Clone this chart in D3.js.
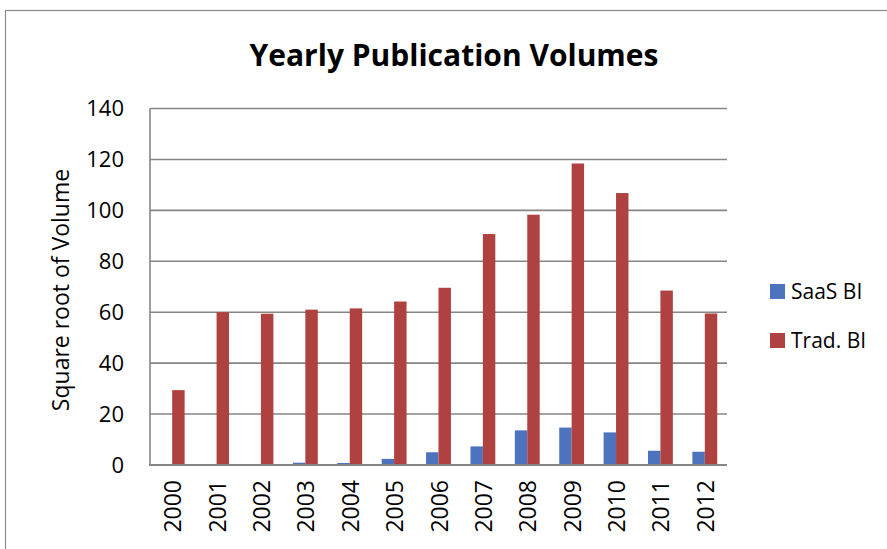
<!DOCTYPE html>
<html>
<head>
<meta charset="utf-8">
<script src="https://cdn.jsdelivr.net/npm/d3@7"></script>
<style>
  body { margin: 0; background: #fff; }
  text { font-family: "Open Sans", "Noto Sans", sans-serif; fill: #000; }
</style>
</head>
<body>
<div id="chart"></div>
<script>
// data
const years = ["2000", "2001", "2002", "2003", "2004", "2005", "2006",
  "2007", "2008", "2009", "2010", "2011", "2012"];
const saasBI = [0, 0, 0, 0.9, 0.8, 2.4, 5.0, 7.3, 13.6, 14.7, 12.8, 5.6, 5.2];
const tradBI = [29.4, 60, 59.4, 61, 61.5, 64.2, 69.6, 90.7, 98.3, 118.4, 106.8, 68.5, 59.5];
const yTicks = [0, 20, 40, 60, 80, 100, 120, 140];
const seriesNames = ["SaaS BI", "Trad. BI"];
const colors = ["#4E73BE", "#AF4140"];

const width = 887, height = 549;
const plot = { left: 150, right: 727, top: 108.5, bottom: 465 };

const svg = d3.select("#chart").append("svg")
  .attr("width", width)
  .attr("height", height);

// chart frame
svg.append("rect")
  .attr("x", 5.5).attr("y", 10.5)
  .attr("width", 900).attr("height", 600)
  .attr("fill", "none")
  .attr("stroke", "#8c8c8c")
  .attr("stroke-width", 1.2);

// title
svg.append("text")
  .attr("x", 454)
  .attr("y", 66)
  .attr("text-anchor", "middle")
  .attr("font-size", 30)
  .attr("font-weight", "bold")
  .text("Yearly Publication Volumes");

const x = d3.scaleBand().domain(years).range([plot.left, plot.right]);
const y = d3.scaleLinear().domain([0, 140]).range([plot.bottom, plot.top]);
const barW = x.bandwidth() * 0.28;

// gridlines
svg.append("g")
  .selectAll("line")
  .data(yTicks)
  .join("line")
  .attr("x1", plot.left).attr("x2", plot.right)
  .attr("y1", (d) => y(d)).attr("y2", (d) => y(d))
  .attr("stroke", "#868686")
  .attr("stroke-width", 1.6);

// y tick labels
svg.append("g")
  .selectAll("text")
  .data(yTicks)
  .join("text")
  .attr("x", 124)
  .attr("y", (d) => y(d))
  .attr("dy", "0.35em")
  .attr("text-anchor", "end")
  .attr("font-size", 22)
  .text((d) => d);

// y axis title
svg.append("text")
  .attr("transform", "translate(69, 290) rotate(-90)")
  .attr("text-anchor", "middle")
  .attr("font-size", 23)
  .text("Square root of Volume");

// bars
const series = [saasBI, tradBI];
series.forEach((vals, s) => {
  svg.append("g")
    .selectAll("rect")
    .data(vals)
    .join("rect")
    .attr("x", (d, i) => x(years[i]) + x.bandwidth() / 2 + (s - 1) * barW)
    .attr("y", (d) => y(d))
    .attr("width", barW)
    .attr("height", (d) => y(0) - y(d))
    .attr("fill", colors[s]);
});

// axes lines
svg.append("line")
  .attr("x1", plot.left).attr("x2", plot.left)
  .attr("y1", plot.top).attr("y2", plot.bottom)
  .attr("stroke", "#868686").attr("stroke-width", 1.6);
svg.append("line")
  .attr("x1", plot.left - 1).attr("x2", plot.right)
  .attr("y1", plot.bottom).attr("y2", plot.bottom)
  .attr("stroke", "#868686").attr("stroke-width", 2.2);

// x labels, rotated
svg.append("g")
  .selectAll("text")
  .data(years)
  .join("text")
  .attr("transform", (d) => `translate(${x(d) + x.bandwidth() / 2 + 9}, 480) rotate(-90)`)
  .attr("text-anchor", "end")
  .attr("font-size", 23)
  .text((d) => d);

// legend
const legend = svg.append("g")
  .selectAll("g")
  .data(seriesNames)
  .join("g")
  .attr("transform", (d, i) => `translate(770, ${284 + i * 49})`);
legend.append("rect")
  .attr("width", 15).attr("height", 15)
  .attr("fill", (d, i) => colors[i]);
legend.append("text")
  .attr("x", 21)
  .attr("y", 15)
  .attr("font-size", 21)
  .text((d) => d);
</script>
</body>
</html>
